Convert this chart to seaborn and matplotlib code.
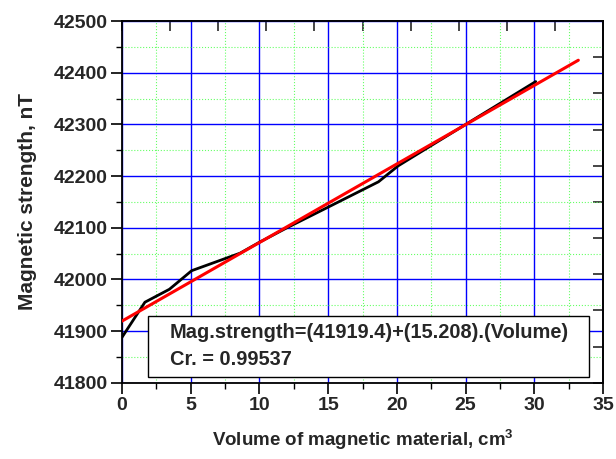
import matplotlib
matplotlib.use('Agg')
import numpy as np
import pandas as pd
import matplotlib.pyplot as plt
import seaborn as sns
from matplotlib.patches import Rectangle
from matplotlib.ticker import MultipleLocator

volume = [0.0, 1.67, 3.45, 5.07, 8.6, 10.0, 12.0, 15.0, 18.66, 20.1, 25.0, 30.1]
strength = [41888, 41956, 41981, 42017, 42051, 42072, 42100, 42140, 42189, 42220, 42300, 42383]

# linear fit given in the chart
intercept = 41919.4
slope = 15.208
fit_x = [0.0, 33.2]
fit_y = [intercept + slope * v for v in fit_x]

sns.set_style('white')
plt.rcParams['font.family'] = ['Liberation Sans', 'DejaVu Sans']
plt.rcParams['font.weight'] = 'bold'
plt.rcParams['mathtext.fontset'] = 'custom'
plt.rcParams['mathtext.rm'] = 'Liberation Sans:bold'
plt.rcParams['mathtext.default'] = 'rm'

fig = plt.figure(figsize=(6.16, 4.59), dpi=100)
ax = fig.add_axes([0.198, 0.166, 0.781, 0.788])

ax.set_xlim(0, 35)
ax.set_ylim(41800, 42500)
ax.xaxis.set_major_locator(MultipleLocator(5))
ax.xaxis.set_minor_locator(MultipleLocator(2.5))
ax.yaxis.set_major_locator(MultipleLocator(100))
ax.yaxis.set_minor_locator(MultipleLocator(50))

ax.grid(which='major', color='#0000ff', linewidth=1.0, linestyle='-')
ax.grid(which='minor', color='#66ff66', linewidth=0.8, linestyle=':')
ax.set_axisbelow(True)

df_meas = pd.DataFrame({'volume': volume, 'strength': strength})
df_fit = pd.DataFrame({'volume': fit_x, 'strength': fit_y})
sns.lineplot(data=df_meas, x='volume', y='strength', color='black', linewidth=2.0, ax=ax, zorder=3)
sns.lineplot(data=df_fit, x='volume', y='strength', color='#ff0000', linewidth=2.2, ax=ax, zorder=4)

for s in ax.spines.values():
    s.set_color('black')
    s.set_linewidth(1.3)
    s.set_visible(True)

ax.tick_params(which='major', direction='out', length=8, width=1.2, color='black',
               labelsize=14, pad=2, bottom=True, left=True)
ax.tick_params(which='minor', direction='out', length=4, width=1.0, color='black',
               bottom=True, left=True)
for lab in ax.get_xticklabels() + ax.get_yticklabels():
    lab.set_fontweight('bold')

# top / right tick marks (10 divisions, inward)
top = ax.secondary_xaxis('top')
top.set_xticks(np.arange(0, 35.01, 3.5))
top.tick_params(direction='in', length=7, width=1.2, labeltop=False)
top.spines['top'].set_linewidth(1.3)
right = ax.secondary_yaxis('right')
right.set_yticks(np.arange(41800, 42500.1, 70))
right.tick_params(direction='in', length=7, width=1.2, labelright=False)
right.spines['right'].set_linewidth(1.3)

ax.set_xlabel('Volume of magnetic material, cm$^{3}$', fontsize=13.5, fontweight='bold', labelpad=10)
ax.set_ylabel('Magnetic strength, nT', fontsize=15, fontweight='bold', labelpad=12)

# equation box
ax.add_patch(Rectangle((0.054, 0.017), 0.917, 0.169, transform=ax.transAxes,
                       facecolor='white', edgecolor='black', linewidth=1.0, zorder=5))
ax.text(0.099, 0.138, 'Mag.strength=(41919.4)+(15.208).(Volume)', transform=ax.transAxes,
        fontsize=14.4, fontweight='bold', va='center', ha='left', zorder=6)
ax.text(0.099, 0.064, 'Cr. = 0.99537', transform=ax.transAxes,
        fontsize=14.4, fontweight='bold', va='center', ha='left', zorder=6)

fig.savefig('out.png', dpi=100)
